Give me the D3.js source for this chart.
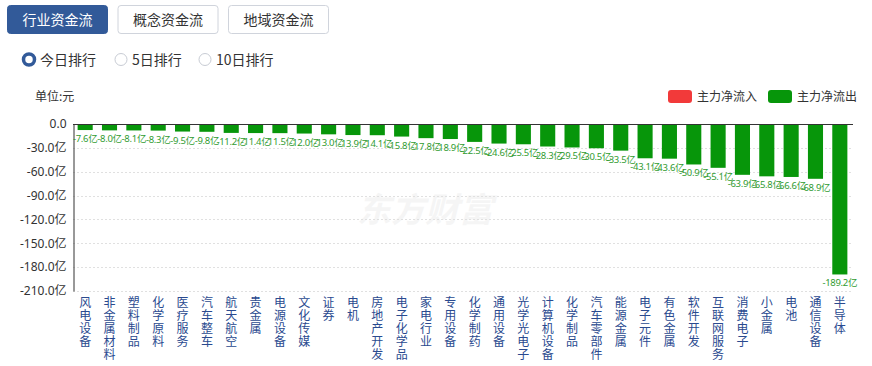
<!DOCTYPE html>
<html>
<head>
<meta charset="utf-8">
<script src="https://cdn.jsdelivr.net/npm/d3@7"></script>
<style>
  body { margin: 0; background: #fff; font-family: "Microsoft YaHei", "Noto Sans CJK SC", sans-serif; }
</style>
</head>
<body>
<svg id="chart" width="872" height="366"></svg>
<script>
const categories = ['风电设备', '非金属材料', '塑料制品', '化学原料', '医疗服务', '汽车整车', '航天航空', '贵金属',
  '电源设备', '文化传媒', '证券', '电机', '房地产开发', '电子化学品', '家电行业', '专用设备', '化学制药', '通用设备',
  '光学光电子', '计算机设备', '化学制品', '汽车零部件', '能源金属', '电子元件', '有色金属', '软件开发', '互联网服务',
  '消费电子', '小金属', '电池', '通信设备', '半导体'];
const netFlow = [-7.6, -8.0, -8.1, -8.3, -9.5, -9.8, -11.2, -11.4, -11.5, -12.0, -13.0, -13.9, -14.1, -15.8, -17.8,
  -18.9, -22.5, -24.6, -25.5, -28.3, -29.5, -30.5, -33.5, -43.1, -43.6, -50.9, -55.1, -63.9, -65.8, -66.6, -68.9, -189.2];
const yTicks = [0, -30, -60, -90, -120, -150, -180, -210];
const tabs = ['行业资金流', '概念资金流', '地域资金流'];
const ranks = ['今日排行', '5日排行', '10日排行'];
const legendItems = [{ name: '主力净流入', color: '#f23a3a' }, { name: '主力净流出', color: '#07960a' }];

const svg = d3.select('#chart');
const font = '"Microsoft YaHei", "Noto Sans CJK SC", sans-serif';
const numFont = '"Noto Sans", "Noto Sans CJK SC", sans-serif';

// tabs
const tabG = svg.append('g');
tabs.forEach((t, i) => {
  const x = 7 + i * 110.5;
  tabG.append('rect')
    .attr('x', x + 0.5).attr('y', 5.5).attr('width', 100).attr('height', 28).attr('rx', 3)
    .attr('fill', i === 0 ? '#325a99' : '#fff')
    .attr('stroke', i === 0 ? '#325a99' : '#d0d4dc');
  tabG.append('text')
    .attr('x', x + 50.5).attr('y', 24.5).attr('text-anchor', 'middle')
    .attr('font-family', font).attr('font-size', 14)
    .attr('fill', i === 0 ? '#fff' : '#333').text(t);
});

// radios
const radioX = [29, 121, 205];
ranks.forEach((r, i) => {
  if (i === 0) {
    svg.append('circle').attr('cx', radioX[i]).attr('cy', 59.5).attr('r', 5.5)
      .attr('fill', '#fff').attr('stroke', '#325a99').attr('stroke-width', 3.5);
  } else {
    svg.append('circle').attr('cx', radioX[i]).attr('cy', 59.5).attr('r', 6)
      .attr('fill', '#fff').attr('stroke', '#c8ccd4');
  }
  svg.append('text').attr('x', radioX[i] + 11).attr('y', 64.5)
    .attr('font-family', font).attr('font-size', 14).attr('fill', '#333').text(r);
});

svg.append('text').attr('x', 35).attr('y', 101)
  .attr('font-family', font).attr('font-size', 12).attr('fill', '#333').text('单位:元');

// legend
legendItems.forEach((d, i) => {
  const x = 668 + i * 100;
  svg.append('rect').attr('x', x).attr('y', 90).attr('width', 24).attr('height', 13).attr('rx', 3).attr('fill', d.color);
  svg.append('text').attr('x', x + 29).attr('y', 101)
    .attr('font-family', font).attr('font-size', 12).attr('fill', '#333').text(d.name);
});

// chart
const x = d3.scaleBand().domain(categories).range([73, 852]).paddingInner(0.38).paddingOuter(0.19);
const y = d3.scaleLinear().domain([0, -210]).range([124, 291]);

// watermark
svg.append('text').attr('x', 425).attr('y', 222).attr('text-anchor', 'middle')
  .attr('font-family', font).attr('font-size', 34).attr('font-weight', 'bold').attr('font-style', 'italic')
  .attr('fill', '#000').attr('opacity', 0.035).text('东方财富');

svg.append('g').selectAll('line')
  .data(yTicks.slice(1))
  .join('line')
  .attr('x1', 73).attr('x2', 852)
  .attr('y1', d => Math.round(y(d)) + 0.5).attr('y2', d => Math.round(y(d)) + 0.5)
  .attr('stroke', '#e0e0e0').attr('stroke-dasharray', '2,2');

const yAxis = svg.append('g')
  .attr('transform', 'translate(73.5,0)')
  .call(d3.axisLeft(y).tickValues(yTicks).tickSize(0).tickPadding(7)
    .tickFormat(d => d === 0 ? '0.0' : d.toFixed(1) + '亿'));
yAxis.select('.domain').attr('stroke', '#333');
yAxis.selectAll('text').attr('font-family', numFont).attr('font-size', 12).attr('fill', '#333');

svg.append('g').selectAll('rect')
  .data(netFlow)
  .join('rect')
  .attr('x', (d, i) => x(categories[i]))
  .attr('y', y(0))
  .attr('width', x.bandwidth())
  .attr('height', d => y(d) - y(0))
  .attr('fill', '#07960a');

svg.append('g').selectAll('text')
  .data(netFlow)
  .join('text')
  .attr('x', (d, i) => x(categories[i]) + x.bandwidth() / 2)
  .attr('y', d => y(d) + 12)
  .attr('text-anchor', 'middle')
  .attr('font-family', numFont).attr('font-size', 9.5).attr('letter-spacing', -0.3).attr('fill', '#2f9b2f')
  .text(d => d.toFixed(1) + '亿');

// zero line
svg.append('line').attr('x1', 73).attr('x2', 853).attr('y1', y(0) + 0.5).attr('y2', y(0) + 0.5).attr('stroke', '#333');

// category labels, vertical: one character per line
const chars = categories.flatMap(c => Array.from(c).map((ch, j) => ({ c, ch, j })));
svg.append('g').selectAll('text')
  .data(chars)
  .join('text')
  .attr('x', d => x(d.c) + x.bandwidth() / 2)
  .attr('y', d => 307 + d.j * 13)
  .attr('text-anchor', 'middle')
  .attr('font-family', font).attr('font-size', 12).attr('fill', '#2a4a8f')
  .text(d => d.ch);
</script>
</body>
</html>
